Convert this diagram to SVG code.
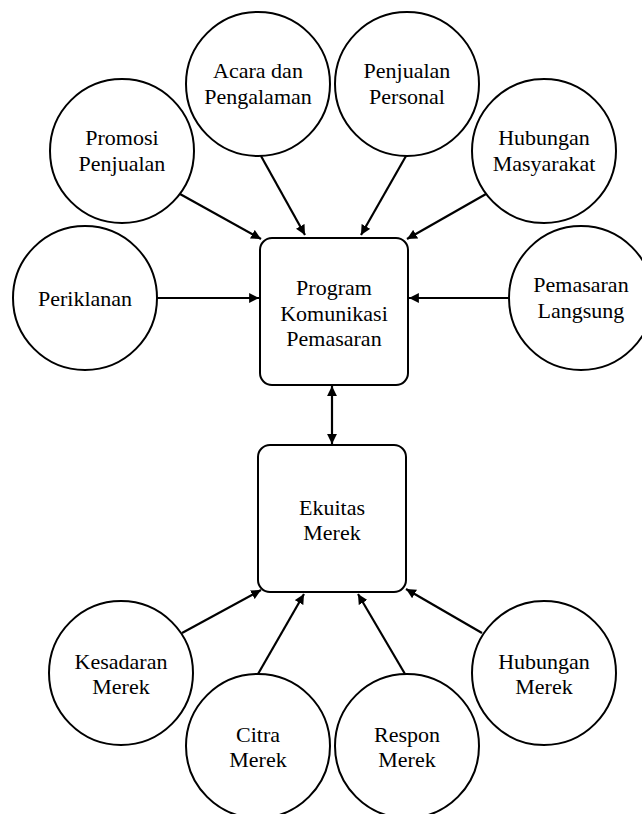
<svg xmlns="http://www.w3.org/2000/svg" width="642" height="814" viewBox="0 0 642 814">
<defs>
<marker id="ah" viewBox="0 0 10 10" refX="10" refY="5" markerWidth="4.5" markerHeight="4.5" orient="auto-start-reverse" markerUnits="strokeWidth">
<path d="M0,0 L10,5 L0,10 Z" fill="#000"/>
</marker>
</defs>
<style>
.n{fill:#fff;stroke:#000;stroke-width:2}
.t{font-family:"Liberation Serif","Times New Roman",serif;font-size:22px;fill:#000;text-anchor:middle}
.c line{stroke:#000;stroke-width:2.2;marker-end:url(#ah)}
</style>
<rect width="642" height="814" fill="#fff"/>
<g class="c" id="connectors">
<line x1="157" y1="298" x2="259" y2="298"/>
<line x1="509" y1="298" x2="409" y2="298"/>
<line x1="180" y1="194" x2="261" y2="239"/>
<line x1="261" y1="156" x2="305" y2="235"/>
<line x1="406" y1="156" x2="361" y2="235"/>
<line x1="486" y1="194" x2="407" y2="239"/>
<line x1="332" y1="386" x2="332" y2="444" marker-start="url(#ah)"/>
<line x1="182" y1="633" x2="261" y2="590"/>
<line x1="258" y1="674" x2="304" y2="594"/>
<line x1="405" y1="674" x2="358" y2="594"/>
<line x1="482" y1="633" x2="406" y2="589"/>
</g>
<g id="periklanan"><circle class="n" cx="85" cy="298" r="72"/><text class="t" x="85" y="306">Periklanan</text></g>
<g id="promosi"><circle class="n" cx="122" cy="151" r="72"/><text class="t" x="122" y="145">Promosi</text><text class="t" x="122" y="171">Penjualan</text></g>
<g id="acara"><circle class="n" cx="258" cy="84" r="72"/><text class="t" x="258" y="78">Acara dan</text><text class="t" x="258" y="104">Pengalaman</text></g>
<g id="penjualan"><circle class="n" cx="407" cy="84" r="72"/><text class="t" x="407" y="78">Penjualan</text><text class="t" x="407" y="104">Personal</text></g>
<g id="humas"><circle class="n" cx="544" cy="151" r="72"/><text class="t" x="544" y="145">Hubungan</text><text class="t" x="544" y="171">Masyarakat</text></g>
<g id="langsung"><circle class="n" cx="581" cy="298" r="72"/><text class="t" x="581" y="292">Pemasaran</text><text class="t" x="581" y="318">Langsung</text></g>
<g id="program"><rect class="n" x="260" y="238" width="148" height="147" rx="12"/><text class="t" x="334" y="295">Program</text><text class="t" x="334" y="321">Komunikasi</text><text class="t" x="334" y="346">Pemasaran</text></g>
<g id="ekuitas"><rect class="n" x="258" y="445" width="148" height="147" rx="12"/><text class="t" x="332" y="515">Ekuitas</text><text class="t" x="332" y="540">Merek</text></g>
<g id="kesadaran"><circle class="n" cx="121" cy="673" r="72"/><text class="t" x="121" y="669">Kesadaran</text><text class="t" x="121" y="694">Merek</text></g>
<g id="citra"><circle class="n" cx="258" cy="746" r="72"/><text class="t" x="258" y="742">Citra</text><text class="t" x="258" y="767">Merek</text></g>
<g id="respon"><circle class="n" cx="407" cy="746" r="72"/><text class="t" x="407" y="742">Respon</text><text class="t" x="407" y="767">Merek</text></g>
<g id="hubmerek"><circle class="n" cx="544" cy="673" r="72"/><text class="t" x="544" y="669">Hubungan</text><text class="t" x="544" y="694">Merek</text></g>
</svg>
